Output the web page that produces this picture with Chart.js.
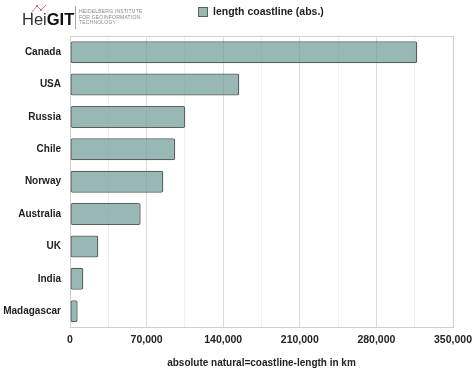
<!DOCTYPE html>
<html><head><meta charset="utf-8">
<script src="https://cdn.jsdelivr.net/npm/chart.js@4.4.1/dist/chart.umd.min.js"></script>
<style>
html,body{margin:0;padding:0;background:#fff;}
#wrap{position:relative;width:474px;height:372px;}
canvas{position:absolute;left:0;top:0;}
#logo{position:absolute;left:22px;top:4px;height:26px;font-family:"Liberation Sans",Arial,sans-serif;}
#logo .hei{position:absolute;left:0;top:6px;font-size:16.5px;color:#333;white-space:nowrap;}
#logo .hei b{color:#111;font-weight:700;}
#logo .bar{position:absolute;left:53px;top:2px;width:1px;height:23px;background:#aaa;}
#logo .txt{position:absolute;left:57px;top:5px;font-size:5px;line-height:5.5px;color:#888;white-space:nowrap;letter-spacing:0.2px;}
</style></head>
<body><div id="wrap"><canvas id="c" width="474" height="372"></canvas>
<div id="logo"><svg style="position:absolute;left:8px;top:0px" width="18" height="10"><polyline points="1,9 7,2 11,6 16,1" fill="none" stroke="#d9534f" stroke-width="0.8"/><circle cx="7" cy="2" r="1" fill="#d9534f"/><circle cx="11" cy="6" r="1" fill="#d9534f"/></svg><div class="hei">Hei<b>GIT</b></div><div class="bar"></div><div class="txt">HEIDELBERG INSTITUTE<br>FOR GEOINFORMATION<br>TECHNOLOGY</div></div>
</div>
<script>
const categories = ["Canada","USA","Russia","Chile","Norway","Australia","UK","India","Madagascar"];
const coastlineLength = [317400,154700,105400,96200,85300,64600,25900,12200,7000];
const seriesLabel = "length coastline (abs.)";
const xTicks = [0,70000,140000,210000,280000,350000];
const axisTitle = "absolute natural=coastline-length in km";

const FONT = "'Liberation Sans', Arial, sans-serif";
const fill = "rgba(112,156,153,0.72)";
const edge = "#5a5f5e";

const extras = {
  id: 'extras',
  afterDraw(chart) {
    const ctx = chart.ctx, a = chart.chartArea;
    ctx.save();
    ctx.strokeStyle = "#cfcfcf"; ctx.lineWidth = 1;
    ctx.beginPath();
    ctx.moveTo(a.left, a.top + 0.5); ctx.lineTo(a.right + 0.5, a.top + 0.5);
    ctx.lineTo(a.right + 0.5, a.bottom);
    ctx.stroke();
    // legend
    ctx.fillStyle = fill; ctx.strokeStyle = edge; ctx.lineWidth = 1;
    ctx.fillRect(198.5, 7.5, 9, 9); ctx.strokeRect(198.5, 7.5, 9, 9);
    ctx.fillStyle = "#222"; ctx.font = "bold 10.5px " + FONT;
    ctx.textBaseline = "middle"; ctx.textAlign = "left";
    ctx.fillText(seriesLabel, 213, 12.5);
    ctx.restore();
  }
};

new Chart(document.getElementById('c'), {
  type: 'bar',
  data: { labels: categories, datasets: [{
    label: seriesLabel, data: coastlineLength,
    backgroundColor: fill, borderColor: edge, borderWidth: 1.3, borderRadius: 2, borderSkipped: false,
    categoryPercentage: 1, barPercentage: 0.68
  }]},
  options: {
    indexAxis: 'y', responsive: false, animation: false,
    layout: { padding: { top: 36, right: 0, left: 0, bottom: 3 } },
    plugins: { legend: { display: false }, tooltip: { enabled: false } },
    scales: {
      x: {
        min: 0, max: 350000,
        afterBuildTicks(s) { s.ticks = []; for (let v = 0; v <= 350000; v += 35000) s.ticks.push({ value: v }); },
        afterFit(s) { s.paddingRight = 21; s.paddingLeft = 0; },
        grid: { color: c => (c.tick && c.tick.value % 70000 === 0) ? "#dcdcdc" : "#efefef", drawTicks: false, lineWidth: 1 },
        border: { color: "#cfcfcf" },
        ticks: { padding: 6, color: "#222", font: { family: FONT, size: 10.5, weight: 'bold' }, maxRotation: 0, autoSkip: false,
          callback: (v) => xTicks.includes(v) ? v.toLocaleString('en-US') : '' },
        title: { display: true, text: axisTitle, color: "#222", font: { family: FONT, size: 10, weight: 'bold' }, padding: { top: 5, bottom: 0 } }
      },
      y: {
        afterFit(s) { s.width = 70; },
        grid: { display: false, drawTicks: false },
        border: { color: "#cfcfcf" },
        ticks: { padding: 9, color: "#222", font: { family: FONT, size: 10, weight: 'bold' } }
      }
    }
  },
  plugins: [extras]
});
</script></body></html>
